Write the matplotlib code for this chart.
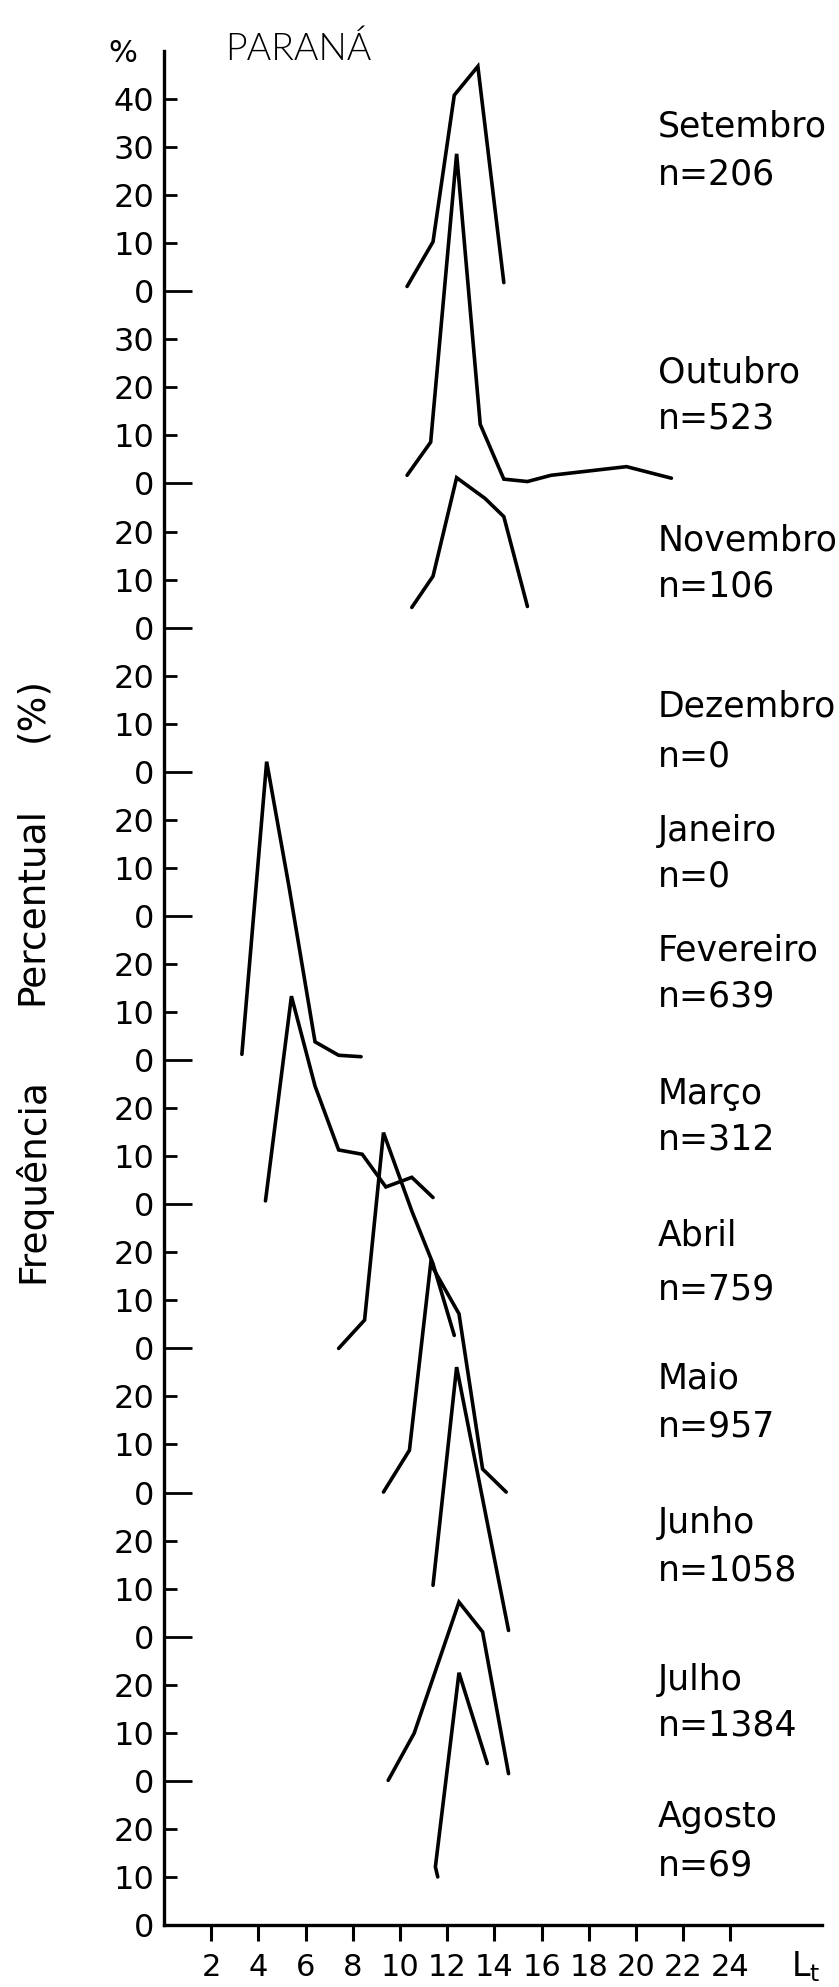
import matplotlib
matplotlib.use("Agg")
import matplotlib.pyplot as plt

plt.rcParams['font.family'] = ['DejaVu Sans']

# months from top to bottom of the stack, with sample sizes
months = ["Setembro", "Outubro", "Novembro", "Dezembro", "Janeiro", "Fevereiro",
          "Março", "Abril", "Maio", "Junho", "Julho", "Agosto"]
n_sizes = [206, 523, 106, 0, 0, 639, 312, 759, 957, 1058, 1384, 69]

# highest tick (%) on each month's sub-axis
panel_top = [40, 30, 20, 20, 20, 20, 20, 20, 20, 20, 20, 20]

# total length (Lt) classes and percentage frequency per month
set_lt = [10.3, 11.4, 12.3, 13.3, 14.4]
set_pct = [1.0, 10.3, 40.8, 46.8, 1.8]
out_lt = [10.3, 11.3, 12.4, 13.4, 14.4, 15.4, 16.4, 19.6, 21.5]
out_pct = [1.7, 8.6, 68.6, 12.3, 0.9, 0.4, 1.7, 3.5, 1.1]
nov_lt = [10.5, 11.4, 12.4, 13.6, 14.4, 15.4]
nov_pct = [4.2, 10.7, 31.2, 26.9, 23.1, 4.4]
dez_lt, dez_pct = [], []
jan_lt, jan_pct = [], []
fev_lt = [3.3, 4.35, 5.3, 6.4, 7.4, 8.35]
fev_pct = [1.2, 62.1, 36.0, 3.8, 1.0, 0.7]
mar_lt = [4.3, 5.4, 6.4, 7.4, 8.4, 9.4, 10.5, 11.4]
mar_pct = [0.7, 43.3, 24.6, 11.3, 10.4, 3.6, 5.6, 1.4]
abr_lt = [7.4, 8.5, 9.3, 10.5, 11.4, 12.3]
abr_pct = [0.0, 5.9, 44.9, 28.6, 17.6, 2.7]
mai_lt = [9.3, 10.4, 11.3, 12.5, 13.5, 14.5]
mai_pct = [0.1, 8.8, 47.6, 37.2, 4.9, 0.1]
jun_lt = [11.4, 12.4, 14.6]
jun_pct = [10.7, 56.1, 1.3]
jul_lt = [9.5, 10.6, 12.5, 13.5, 14.6]
jul_pct = [0.1, 9.9, 37.2, 31.0, 1.5]
ago_lt = [11.6, 11.5, 12.5, 13.7]
ago_pct = [10.0, 12.1, 52.5, 33.6]

series = [(set_lt, set_pct), (out_lt, out_pct), (nov_lt, nov_pct),
          (dez_lt, dez_pct), (jan_lt, jan_pct), (fev_lt, fev_pct),
          (mar_lt, mar_pct), (abr_lt, abr_pct), (mai_lt, mai_pct),
          (jun_lt, jun_pct), (jul_lt, jul_pct), (ago_lt, ago_pct)]

x_ticks = list(range(2, 25, 2))

# stacked baselines, bottom month at zero
base = [0] * len(months)
for i in range(len(months) - 2, -1, -1):
    base[i] = base[i + 1] + panel_top[i + 1] + 10

# vertical placement of the month captions (stack units)
name_y = [374.8, 323.6, 288.6, 254.0, 228.1, 203.3, 173.3, 144.0, 114.2, 84.1, 51.4, 22.9]
count_y = [364.7, 313.9, 278.9, 243.7, 218.6, 193.6, 163.8, 132.6, 104.1, 74.1, 41.9, 12.9]

W, H = 839, 1987
fig = plt.figure(figsize=(W / 100, H / 100), dpi=100)
ax = fig.add_axes([164 / W, 62 / H, (821.7 - 164) / W, (1925 - 51) / H])
ax.set_xlim(0, 27.87)
ax.set_ylim(0, 390)

for (lt, pct), b in zip(series, base):
    if lt:
        ax.plot(lt, [p + b for p in pct], color='black', lw=2.6,
                solid_joinstyle='miter', solid_capstyle='round')

for sp in ['top', 'right']:
    ax.spines[sp].set_visible(False)
for sp in ['left', 'bottom']:
    ax.spines[sp].set_linewidth(2.4)

# y ticks: long tick at each month's zero, short ticks at the tens
major_pos, minor_pos, minor_lab = [], [], []
for b, top in zip(base, panel_top):
    major_pos.append(b)
    for v in range(10, top + 1, 10):
        minor_pos.append(b + v)
        minor_lab.append(str(v))
ax.set_yticks(major_pos, labels=['0'] * len(major_pos))
ax.set_yticks(minor_pos, labels=minor_lab, minor=True)
ax.tick_params(axis='y', which='major', direction='in', length=20, width=2.0,
               pad=7, labelsize=23)
ax.tick_params(axis='y', which='minor', direction='in', length=9.5, width=2.0,
               pad=7, labelsize=23)

ax.set_xticks(x_ticks, labels=[str(v) for v in x_ticks])
ax.tick_params(axis='x', direction='out', length=11.5, width=2.2, pad=8.5,
               labelsize=22)

ax.text(26.55, -8.7, r'$\mathregular{L_t}$', fontsize=24, ha='left',
        va='center', clip_on=False)

for name, n, yn, yc in zip(months, n_sizes, name_y, count_y):
    ax.text(20.93, yn - 2.5, name, fontsize=25, ha='left', va='baseline')
    ax.text(20.93, yc - 2.5, 'n=%d' % n, fontsize=25, ha='left', va='baseline')

# rotated axis title, three words spread along the axis
for word, yc in [("(%)", 709.5), ("Percentual", 906), ("Frequência", 1180.5)]:
    fig.text(32 / W, 1 - yc / H, word, rotation=90, fontsize=27,
             ha='center', va='center')

fig.text(123 / W, 1 - 53 / H, '%', fontsize=22, ha='center', va='center')
fig.text(225 / W, 1 - 50 / H, 'PARANÁ', fontsize=27, ha='left', va='center',
         family=['Lato', 'DejaVu Sans'], fontweight=300)

fig.savefig('out.png', dpi=100)
